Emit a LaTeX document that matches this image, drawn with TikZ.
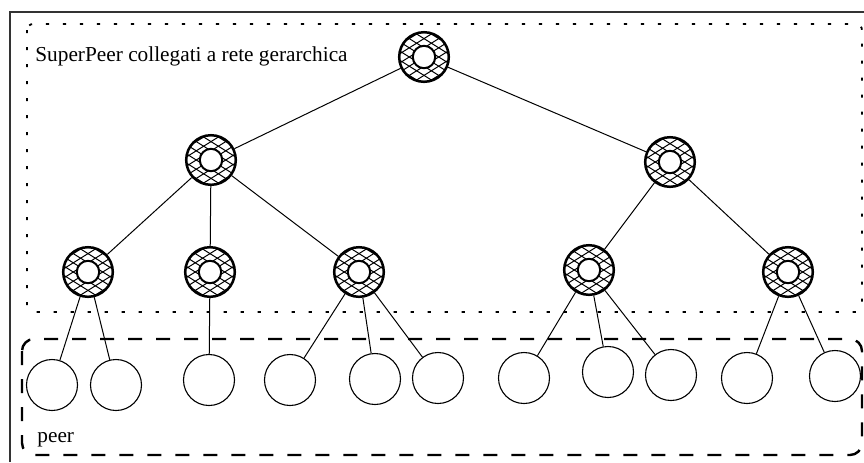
\documentclass[tikz,border=0pt]{standalone}
\usepackage{fontspec}
\setmainfont{Liberation Serif}
\usetikzlibrary{calc}

\begin{document}
\begin{tikzpicture}[
        x=0.5pt, y=-0.5pt, % unità: coordinate in "pixel", asse y verso il basso
        font=\fontsize{10.65}{12}\selectfont,
        % --- STILI ---
        % 1. SuperPeer: anello a rombi con foro bianco
        superpeer/.style={
                circle,
                draw,
                fill=white,
                line width=1.25pt,
                minimum size=24.8pt,
                inner sep=0pt,
                path picture={
                        \coordinate (pc) at (path picture bounding box.center);
                        \foreach \a in {32,-32} {
                                \foreach \k in {-4,...,4} {
                                        \draw[line width=0.5pt]
                                        ($(pc)+(\a+90:\k*3.9pt)+(\a:-17pt)$) --
                                        ($(pc)+(\a+90:\k*3.9pt)+(\a:17pt)$);
                                    }
                            }
                        \draw[line width=1pt, fill=white] (pc) circle (5.6pt);
                    }
            },
        % 2. Peer semplici
        peer/.style={
                circle,
                draw,
                line width=0.55pt,
                minimum size=25.5pt,
                inner sep=0pt
            },
        % 3. Collegamenti
        link/.style={line width=0.5pt},
        % 4. Riquadri dei gruppi
        superbox/.style={
                draw,
                line width=0.9pt,
                dash pattern=on 1.6pt off 6.9pt,
                rounded corners=3pt
            },
        peerbox/.style={
                draw,
                line width=1.2pt,
                dash pattern=on 7pt off 7pt,
                rounded corners=6pt
            },
        caption/.style={inner sep=0pt, anchor=base west}
    ]
    \useasboundingbox (0,0) rectangle (864,462);

    % cornice esterna
    \draw[line width=0.6pt, black!80] (10,462) -- (10,12) -- (864,12);

    % riquadri
    \draw[superbox] (27,24) rectangle (862,312);
    \draw[peerbox] (22,339) rectangle (862,455);
    \node[caption] (labsp) at (35,61) {SuperPeer collegati a rete gerarchica};
    \node[caption] (labpeer) at (37,442) {peer};

    % rete gerarchica dei SuperPeer
    \node[superpeer] (root) at (424,57) {};
    \node[superpeer] (sp1) at (211,160) {};
    \node[superpeer] (sp2) at (670,162) {};
    \node[superpeer] (sp11) at (88,272) {};
    \node[superpeer] (sp12) at (210,272) {};
    \node[superpeer] (sp13) at (359,272) {};
    \node[superpeer] (sp21) at (589,270) {};
    \node[superpeer] (sp22) at (788,272) {};

    % peer
    \node[peer] (p1) at (52,385) {};
    \node[peer] (p2) at (116,385) {};
    \node[peer] (p3) at (209,380) {};
    \node[peer] (p4) at (290,380) {};
    \node[peer] (p5) at (375,379) {};
    \node[peer] (p6) at (438,378) {};
    \node[peer] (p7) at (524,378) {};
    \node[peer] (p8) at (608,372) {};
    \node[peer] (p9) at (671,375) {};
    \node[peer] (p10) at (747,378) {};
    \node[peer] (p11) at (835,376) {};

    % collegamenti
    \draw[link] (root) -- (sp1) (root) -- (sp2);
    \draw[link] (sp1) -- (sp11) (sp1) -- (sp12) (sp1) -- (sp13);
    \draw[link] (sp2) -- (sp21) (sp2) -- (sp22);
    \draw[link] (sp11) -- (p1) (sp11) -- (p2);
    \draw[link] (sp12) -- (p3);
    \draw[link] (sp13) -- (p4) (sp13) -- (p5) (sp13) -- (p6);
    \draw[link] (sp21) -- (p7) (sp21) -- (p8) (sp21) -- (p9);
    \draw[link] (sp22) -- (p10) (sp22) -- (p11);

\end{tikzpicture}
\end{document}
